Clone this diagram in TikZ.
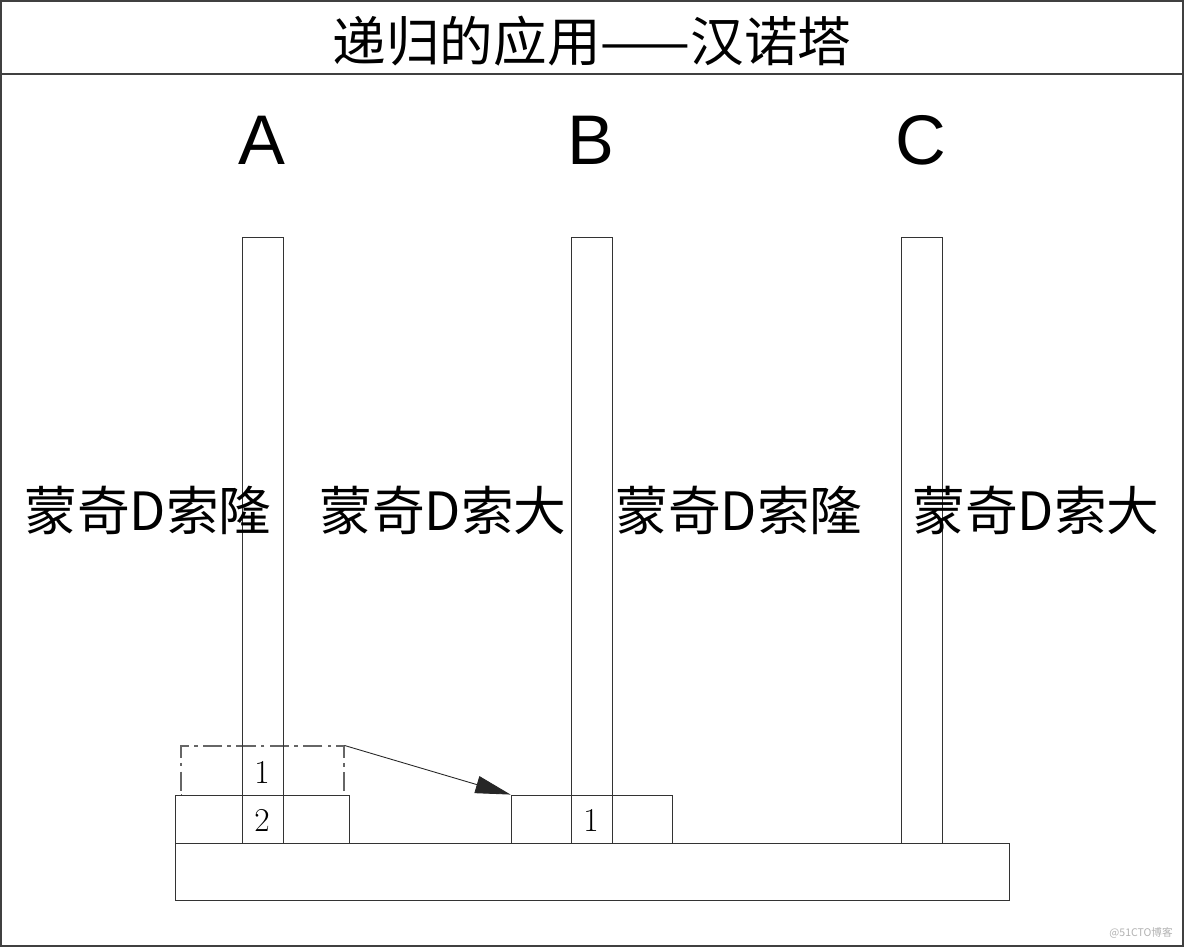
\documentclass[tikz,border=0pt]{standalone}
\usepackage{fontspec}
\newfontfamily\cjk{Noto Sans CJK SC}
\newfontfamily\lat{Liberation Sans}
\usetikzlibrary{fit,arrows.meta}
\begin{document}
\begin{tikzpicture}[x=0.02cm,y=-0.02cm,
  frameline/.style={draw=black!75,line width=1.2pt},
  boxrect/.style={draw=black!80,line width=0.5pt,inner sep=0pt},
  ghostrect/.style={draw=black!60,line width=0.6pt,inner sep=0pt,dash pattern=on 11pt off 3pt on 2pt off 3pt},
  titletext/.style={font=\cjk\fontsize{30.5pt}{32pt}\selectfont,inner sep=0pt},
  pegtext/.style={font=\lat\fontsize{40pt}{42pt}\selectfont,inner sep=0pt},
  nametext/.style={font=\cjk\fontsize{30pt}{32pt}\selectfont,inner sep=0pt},
  numtext/.style={font=\rmfamily\fontsize{19pt}{20pt}\selectfont,inner sep=0pt},
  wmtext/.style={font=\cjk\fontsize{6pt}{7pt}\selectfont,text=black!30,inner sep=0pt}]
\useasboundingbox (0,0) rectangle (1184,947);
\fill[white] (0,0) rectangle (1184,947);
\node[frameline,inner sep=0pt,fit={(1,1)(1183,946)}] (outer) {};
\coordinate (tl) at (1,74);
\coordinate (tr) at (1183,74);
\draw[frameline] (tl) -- (tr);
\node[titletext] (ttl) at (592,41) {递归的应用——汉诺塔};
% base
\node[boxrect,fit={(175,843)(1009,900)}] (base) {};
% ghost disk (old position of disk 1)
\node[ghostrect,fit={(181,746)(344,795)}] (d1old) {};
\fill[white] (182,793) rectangle (343,797);
% pegs
\node[boxrect,fit={(242,237)(283,843)}] (pA) {};
\node[boxrect,fit={(571,237)(612,843)}] (pB) {};
\node[boxrect,fit={(901,237)(942,843)}] (pC) {};
\node[pegtext] (lA) at (262,140) {A};
\node[pegtext] (lB) at (591,140) {B};
\node[pegtext] (lC) at (921,140) {C};
% disks
\node[boxrect,fit={(175,795)(349,843)}] (d2) {};
\node[boxrect,fit={(511,795)(672,843)}] (d1) {};
\node[numtext] (n1old) at (262,772) {1};
\node[numtext] (n2) at (262,820) {2};
\node[numtext] (n1) at (591,820) {1};
\draw[black!85,line width=0.5pt,-{Triangle[length=20pt,width=10pt]}] (d1old.north east) -- (d1.north west);
% names
\node[nametext] (m1) at (148,510) {蒙奇D索隆};
\node[nametext] (m2) at (443,510) {蒙奇D索大};
\node[nametext] (m3) at (739,510) {蒙奇D索隆};
\node[nametext] (m4) at (1036,510) {蒙奇D索大};
\node[wmtext] (wm) at (1141,933) {@51CTO博客};
\end{tikzpicture}
\end{document}
